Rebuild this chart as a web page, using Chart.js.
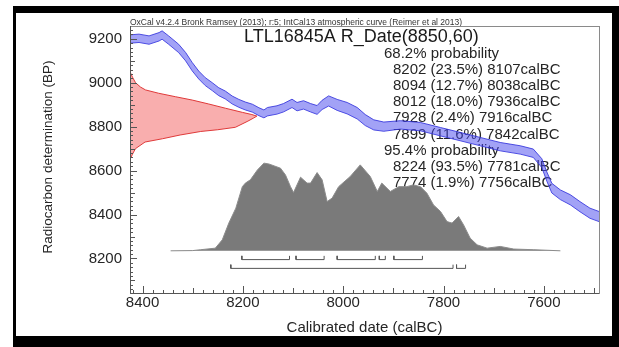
<!DOCTYPE html>
<html>
<head>
<meta charset="utf-8">
<script src="https://cdn.jsdelivr.net/npm/chart.js@4.4.1/dist/chart.umd.min.js"></script>
<style>
  html, body { margin: 0; padding: 0; background: #fff; }
  #wrap { width: 619px; height: 347px; }
</style>
</head>
<body>
<div id="wrap"><canvas id="oxcal" width="619" height="347"></canvas></div>
<script>
// IntCal13 curve: cal BC, BP, 1 sigma
const curveCal = [8424, 8407, 8387, 8367, 8361, 8348, 8328, 8314, 8301, 8288, 8275, 8261, 8248, 8235, 8221, 8208,
  8195, 8181, 8168, 8158, 8151, 8132, 8119, 8102, 8092, 8079, 8065, 8052, 8042, 8029, 8012, 7992, 7972, 7956, 7939,
  7919, 7886, 7846, 7806, 7767, 7727, 7687, 7647, 7621, 7604, 7594, 7584, 7567, 7547, 7528, 7508, 7490];
const curveBP = [9199, 9202, 9194, 9209, 9217, 9194, 9156, 9118, 9073, 9035, 9005, 8982, 8959, 8944, 8921, 8906,
  8894, 8884, 8868, 8858, 8868, 8876, 8886, 8906, 8891, 8899, 8886, 8876, 8899, 8917, 8899, 8884, 8861, 8830, 8808,
  8800, 8808, 8800, 8777, 8755, 8732, 8709, 8694, 8679, 8634, 8573, 8520, 8490, 8467, 8436, 8406, 8391];
const curveErr = [19, 19, 19, 19, 19, 19, 19, 19, 19, 18, 18, 18, 18, 18, 18, 18,
  18, 18, 18, 18, 19, 19, 19, 19, 19, 19, 19, 20, 21, 23, 25, 26, 26, 25, 23,
  21, 19, 19, 19, 19, 19, 19, 19, 19, 20, 21, 22, 22, 23, 23, 23, 23];

// R_Date(8850,60) distribution on the BP axis (outline)
const dateCal = [8425, 8420, 8414, 8404, 8394, 8368, 8334, 8301, 8268, 8235, 8201, 8182, 8172,
  8178, 8190, 8215, 8250, 8284, 8325, 8360, 8395, 8414, 8420, 8425];
const dateBP = [9050, 9025, 9000, 8980, 8967, 8952, 8936, 8921, 8903, 8884, 8865, 8855, 8848,
  8840, 8825, 8797, 8786, 8778, 8762, 8745, 8730, 8700, 8675, 8650];

// calibrated probability (top edge, plotted on the BP axis above its baseline)
const postBase = 8235;
const postCal = [8344, 8300, 8284, 8255, 8241, 8228, 8214, 8201, 8195, 8185, 8171, 8158, 8148, 8125, 8115, 8105,
  8099, 8085, 8072, 8065, 8052, 8042, 8032, 8022, 8009, 7986, 7966, 7946, 7932, 7923, 7906, 7889, 7873, 7860,
  7846, 7833, 7820, 7806, 7793, 7783, 7770, 7760, 7747, 7733, 7713, 7687, 7660, 7620, 7567];
const postBP = [8235, 8236, 8240, 8247, 8285, 8361, 8429, 8527, 8543, 8558, 8603, 8634, 8630, 8611, 8580, 8527,
  8500, 8570, 8543, 8543, 8591, 8558, 8459, 8475, 8527, 8573, 8626, 8573, 8505, 8543, 8505, 8527, 8527, 8535,
  8527, 8497, 8444, 8414, 8368, 8361, 8391, 8353, 8293, 8262, 8247, 8255, 8243, 8240, 8235];

// hpd ranges
const range68 = [[8202, 8107], [8094, 8038], [8012, 7936], [7928, 7916], [7899, 7842]];
const range95 = [[8224, 7781], [7774, 7756]];
const range68Line = 8195, range68Tick = 8212;
const range95Line = 8155, range95Tick = 8172;

const xTickValues = [8400, 8200, 8000, 7800, 7600];
const yTickValues = [8200, 8400, 8600, 8800, 9000, 9200];
const minorStep = 20;

const titleText = 'LTL16845A R_Date(8850,60)';
const subTitle = 'OxCal v4.2.4 Bronk Ramsey (2013); r:5; IntCal13 atmospheric curve (Reimer et al 2013)';
const yTitle = 'Radiocarbon determination (BP)';
const probLines = [
  ['68.2% probability', 0],
  ['8202 (23.5%) 8107calBC', 1],
  ['8094 (12.7%) 8038calBC', 1],
  ['8012 (18.0%) 7936calBC', 1],
  ['7928 (2.4%) 7916calBC', 1],
  ['7899 (11.6%) 7842calBC', 1],
  ['95.4% probability', 0],
  ['8224 (93.5%) 7781calBC', 1],
  ['7774 (1.9%) 7756calBC', 1]
];

const FONT = "'Liberation Sans', Arial, sans-serif";

const datasets = [
  {
    label: 'curve upper',
    data: curveCal.map((c, i) => ({x: c, y: curveBP[i] + curveErr[i]})),
    borderColor: 'rgba(50,50,220,0.85)', borderWidth: 1,
    backgroundColor: 'rgba(70,70,238,0.5)', fill: '+1', order: 0
  },
  {
    label: 'curve lower',
    data: curveCal.map((c, i) => ({x: c, y: curveBP[i] - curveErr[i]})),
    borderColor: 'rgba(50,50,220,0.85)', borderWidth: 1, fill: false, order: 0
  },
  {
    label: 'R_Date',
    data: dateCal.map((c, i) => ({x: c, y: dateBP[i]})),
    borderColor: '#e03a3a', borderWidth: 1,
    backgroundColor: 'rgba(245,120,120,0.6)', fill: 'shape', order: 1
  },
  {
    label: 'posterior',
    data: postCal.map((c, i) => ({x: c, y: postBP[i]})),
    borderColor: '#8c8c8c', borderWidth: 1,
    backgroundColor: '#7a7a7a', fill: {value: postBase}, order: 2
  }
];

function bracket(r, lineY, tickY) {
  return {
    data: [{x: r[0], y: tickY}, {x: r[0], y: lineY}, {x: r[1], y: lineY}, {x: r[1], y: tickY}],
    borderColor: '#555', borderWidth: 1, fill: false, order: 3
  };
}
range68.forEach(r => datasets.push(bracket(r, range68Line, range68Tick)));
range95.forEach(r => datasets.push(bracket(r, range95Line, range95Tick)));

const oxcalDecor = {
  id: 'oxcalDecor',
  beforeDraw(chart) {
    const ctx = chart.ctx;
    ctx.save();
    ctx.fillStyle = '#fff';
    ctx.fillRect(0, 0, chart.width, chart.height);
    ctx.restore();
  },
  beforeDatasetsDraw(chart) {
    const ctx = chart.ctx;
    ctx.save();
    ctx.fillStyle = '#1a1a1a';
    ctx.textBaseline = 'alphabetic';
    ctx.font = '18px ' + FONT;
    ctx.fillText(titleText, 244, 41.5);
    ctx.font = '15px ' + FONT;
    ctx.fillStyle = '#262626';
    probLines.forEach((l, i) => {
      ctx.fillText(l[0], l[1] ? 393 : 384, 57.5 + i * 16.2);
    });
    ctx.font = '8.5px ' + FONT;
    ctx.fillStyle = '#333';
    ctx.fillText(subTitle, 130, 24.5);
    // y axis title
    ctx.translate(48, 157);
    ctx.rotate(-Math.PI / 2);
    ctx.font = '13.5px ' + FONT;
    ctx.fillStyle = '#262626';
    ctx.textAlign = 'center';
    ctx.textBaseline = 'middle';
    ctx.fillText(yTitle, 0, 0);
    ctx.restore();
  },
  afterDatasetsDraw(chart) {
    const {ctx, chartArea: a, scales: {x, y}} = chart;
    ctx.save();
    // inward ticks
    ctx.strokeStyle = '#555';
    ctx.lineWidth = 1;
    ctx.beginPath();
    const xs = Math.ceil(x.min / minorStep) * minorStep;
    for (let v = xs; v <= x.max; v += minorStep) {
      const px = Math.round(x.getPixelForValue(v)) + 0.5;
      const len = v % 200 === 0 ? 7 : (v % 100 === 0 ? 5 : 3);
      ctx.moveTo(px, a.bottom);
      ctx.lineTo(px, a.bottom - len);
    }
    const ys = Math.ceil(y.min / minorStep) * minorStep;
    for (let v = ys; v <= y.max; v += minorStep) {
      const py = Math.round(y.getPixelForValue(v)) + 0.5;
      const len = v % 200 === 0 ? 7 : (v % 100 === 0 ? 5 : 3);
      ctx.moveTo(a.left, py);
      ctx.lineTo(a.left + len, py);
    }
    ctx.stroke();
    // plot frame
    ctx.strokeStyle = '#8a8a8a';
    ctx.strokeRect(Math.round(a.left) + 0.5, Math.round(a.top) + 0.5,
      Math.round(a.right - a.left), Math.round(a.bottom - a.top));
    ctx.strokeStyle = '#555';
    ctx.beginPath();
    ctx.moveTo(Math.round(a.left) + 0.5, a.top);
    ctx.lineTo(Math.round(a.left) + 0.5, Math.round(a.bottom) + 0.5);
    ctx.lineTo(a.right, Math.round(a.bottom) + 0.5);
    ctx.stroke();
    ctx.restore();
  },
  afterDraw(chart) {
    const ctx = chart.ctx;
    ctx.save();
    ctx.fillStyle = '#000';
    ctx.fillRect(13, 6, 606, 7);
    ctx.fillRect(13, 6, 3, 341);
    ctx.fillRect(612, 6, 7, 341);
    ctx.fillRect(13, 336, 606, 11);
    ctx.restore();
  }
};

new Chart(document.getElementById('oxcal'), {
  type: 'scatter',
  data: {datasets},
  plugins: [oxcalDecor],
  options: {
    responsive: false,
    animation: false,
    showLine: true,
    layout: {padding: {left: 0, top: 26, right: 20, bottom: 0}},
    elements: {point: {radius: 0, hoverRadius: 0}, line: {tension: 0}},
    plugins: {legend: {display: false}, tooltip: {enabled: false}},
    scales: {
      x: {
        type: 'linear', min: 7490, max: 8425, reverse: true,
        grid: {display: false, drawTicks: false},
        border: {display: false},
        afterBuildTicks: s => { s.ticks = xTickValues.map(v => ({value: v})); },
        afterFit: s => { s.height = 54; },
        ticks: {padding: 1, autoSkip: false, maxRotation: 0, color: '#262626',
          font: {family: FONT, size: 15}, callback: v => String(v)},
        title: {display: true, text: 'Calibrated date (calBC)', color: '#262626',
          font: {family: FONT, size: 15}, padding: {top: 0, bottom: 10}}
      },
      y: {
        type: 'linear', min: 8043, max: 9258,
        grid: {display: false, drawTicks: false},
        border: {display: false},
        afterBuildTicks: s => { s.ticks = yTickValues.map(v => ({value: v})); },
        afterFit: s => { s.width = 130; },
        ticks: {padding: 8, autoSkip: false, color: '#262626',
          font: {family: FONT, size: 15}, callback: v => String(v)}
      }
    }
  }
});
</script>
</body>
</html>
